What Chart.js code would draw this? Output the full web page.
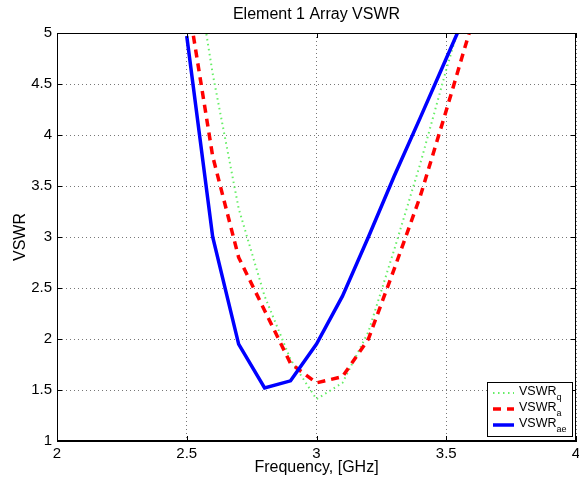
<!DOCTYPE html>
<html>
<head>
<meta charset="utf-8">
<script src="https://cdn.jsdelivr.net/npm/chart.js@4.4.0/dist/chart.umd.min.js"></script>
<style>
  html, body { margin: 0; padding: 0; background: #fff; }
  #wrap { width: 579px; height: 487px; }
</style>
</head>
<body>
<div id="wrap"><canvas id="vswrChart" width="579" height="487"></canvas></div>
<script>
// Frequency samples (GHz)
const freq = [2.5, 2.6, 2.7, 2.8, 2.9, 3.0, 3.1, 3.2, 3.3, 3.4, 3.5, 3.6];
// VSWR series
const vswrQ  = [6.2, 4.6, 3.28, 2.42, 1.8, 1.41, 1.57, 2.07, 2.88, 3.72, 4.64, 5.5];
const vswrA  = [5.38, 3.79, 2.8, 2.28, 1.76, 1.57, 1.63, 2.0, 2.69, 3.4, 4.24, 5.1];
const vswrAe = [4.97, 3.0, 1.95, 1.52, 1.59, 1.95, 2.42, 3.0, 3.6, 4.17, 4.75, 5.33];
// Axis ticks
const xTicks = [2, 2.5, 3, 3.5, 4];
const yTicks = [1, 1.5, 2, 2.5, 3, 3.5, 4, 4.5, 5];
const legendSubs = ['q', 'a', 'ae'];

const FONT = '"Liberation Sans", Arial, Helvetica, sans-serif';

function pts(ys) {
  return freq.map((f, i) => ({ x: f, y: ys[i] }));
}

// Title, box, inward ticks and the legend, MATLAB style
const matlabFrame = {
  id: 'matlabFrame',
  afterDraw(chart) {
    const ctx = chart.ctx;
    const a = chart.chartArea;
    const xs = chart.scales.x, ys = chart.scales.y;
    ctx.save();

    // title
    ctx.fillStyle = '#000';
    ctx.font = '16px ' + FONT;
    ctx.textAlign = 'center';
    ctx.textBaseline = 'middle';
    ctx.fillText('Element 1 Array VSWR', (a.left + a.right) / 2, 15);

    // box
    ctx.strokeStyle = '#000';
    ctx.lineWidth = 1;
    ctx.setLineDash([]);
    ctx.strokeRect(a.left + 0.5, a.top + 0.5, a.right - a.left - 1, a.bottom - a.top - 1);

    // inward ticks
    ctx.beginPath();
    xTicks.forEach(v => {
      const px = Math.round(xs.getPixelForValue(v)) + 0.5;
      ctx.moveTo(px, a.bottom); ctx.lineTo(px, a.bottom - 5);
      ctx.moveTo(px, a.top); ctx.lineTo(px, a.top + 5);
    });
    yTicks.forEach(v => {
      const py = Math.round(ys.getPixelForValue(v)) + 0.5;
      ctx.moveTo(a.left, py); ctx.lineTo(a.left + 5, py);
      ctx.moveTo(a.right, py); ctx.lineTo(a.right - 5, py);
    });
    ctx.stroke();

    // legend
    const bx = 487, by = 382, bw = 85, bh = 54;
    ctx.fillStyle = '#fff';
    ctx.fillRect(bx, by, bw, bh);
    ctx.strokeRect(bx + 0.5, by + 0.5, bw, bh);
    chart.data.datasets.forEach((ds, i) => {
      const cy = by + 11 + i * 16;
      ctx.beginPath();
      ctx.strokeStyle = ds.borderColor;
      ctx.lineWidth = ds.borderWidth;
      ctx.setLineDash(ds.borderDash || []);
      ctx.moveTo(bx + 6, cy);
      ctx.lineTo(bx + 27, cy);
      ctx.stroke();
      ctx.setLineDash([]);
      ctx.fillStyle = '#000';
      ctx.textAlign = 'left';
      ctx.textBaseline = 'middle';
      ctx.font = '12.5px ' + FONT;
      ctx.fillText('VSWR', bx + 32, cy - 1);
      const w = ctx.measureText('VSWR').width;
      ctx.font = '9px ' + FONT;
      ctx.fillText(legendSubs[i], bx + 32 + w, cy + 5);
    });
    ctx.restore();
  }
};

const ctx = document.getElementById('vswrChart').getContext('2d');
const chart = new Chart(ctx, {
  type: 'line',
  data: {
    datasets: [{
      label: 'VSWR_q',
      data: pts(vswrQ),
      borderColor: '#66ee66',
      borderWidth: 2,
      borderDash: [1.5, 3.5],
      order: 3
    }, {
      label: 'VSWR_a',
      data: pts(vswrA),
      borderColor: '#ff0000',
      borderWidth: 3.5,
      borderDash: [8, 6],
      order: 2
    }, {
      label: 'VSWR_ae',
      data: pts(vswrAe),
      borderColor: '#0000ff',
      borderWidth: 3.5,
      order: 1
    }]
  },
  options: {
    responsive: false,
    animation: false,
    devicePixelRatio: 1,
    layout: {
      autoPadding: false,
      padding: { left: 0, right: 3, top: 33, bottom: 0 }
    },
    elements: {
      point: { radius: 0 },
      line: { tension: 0, fill: false }
    },
    datasets: { line: { clip: 0 } },
    plugins: {
      legend: { display: false },
      title: { display: false },
      tooltip: { enabled: false }
    },
    scales: {
      x: {
        type: 'linear',
        min: 2,
        max: 4,
        afterFit(scale) {
          scale.height = 46;
          scale.paddingLeft = 0;
          scale.paddingRight = 0;
        },
        afterBuildTicks(scale) { scale.ticks = xTicks.map(v => ({ value: v })); },
        ticks: {
          color: '#000',
          padding: 4,
          maxRotation: 0,
          font: { family: FONT, size: 15 },
          callback: v => String(v)
        },
        grid: { color: '#777', lineWidth: 1, drawTicks: false },
        border: { display: true, color: '#000', dash: [1, 3] },
        title: {
          display: true,
          text: 'Frequency, [GHz]',
          color: '#000',
          font: { family: FONT, size: 16 },
          padding: { top: 2, bottom: 10 }
        }
      },
      y: {
        type: 'linear',
        min: 1,
        max: 5,
        afterFit(scale) {
          scale.width = 57;
          scale.paddingTop = 0;
          scale.paddingBottom = 0;
        },
        afterBuildTicks(scale) { scale.ticks = yTicks.map(v => ({ value: v })); },
        ticks: {
          color: '#000',
          padding: 5,
          font: { family: FONT, size: 15 },
          callback: v => String(v)
        },
        grid: { color: '#777', lineWidth: 1, drawTicks: false },
        border: { display: true, color: '#000', dash: [1, 3] },
        title: {
          display: true,
          text: 'VSWR',
          color: '#000',
          font: { family: FONT, size: 16 },
          padding: { top: 11, bottom: 2 }
        }
      }
    }
  },
  plugins: [matlabFrame]
});
</script>
</body>
</html>
